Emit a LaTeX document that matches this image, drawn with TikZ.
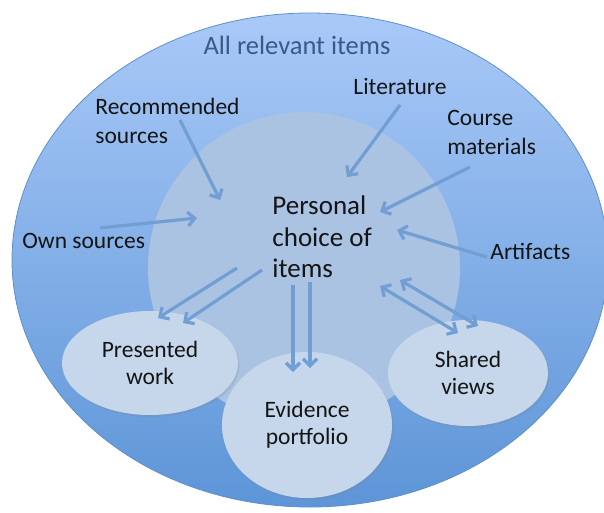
\documentclass[tikz,border=0pt]{standalone}
\usepackage{fontspec}
\setmainfont{Carlito}
\usetikzlibrary{arrows.meta, shapes.geometric, shadows}

\definecolor{worldtop}{HTML}{A9C9F8}
\definecolor{worldbottom}{HTML}{5D95D7}
\definecolor{worldline}{HTML}{5F8FCB}
\definecolor{poolfill}{HTML}{ABC3E2}
\definecolor{pickfill}{HTML}{C6D7EB}
\definecolor{linkblue}{HTML}{719ED3}
\definecolor{textblack}{HTML}{141414}
\definecolor{titleblue}{HTML}{3A5A85}

\begin{document}
\begin{tikzpicture}[x=1pt, y=-1pt, thick,
 >={Straight Barb[length=7pt,width=14pt]},
 txt node/.style={inner sep=0pt, align=left, text=textblack, font=\fontsize{23.5}{29}\selectfont},
 pick node/.style={ellipse, fill=pickfill, inner sep=0pt, align=center, text=textblack,
   font=\fontsize{23.5}{27}\selectfont, drop shadow={opacity=.2, shadow xshift=1.5pt, shadow yshift=-2pt}},
 link/.style={draw=linkblue, line width=3.2pt}]

  \useasboundingbox (0,0) rectangle (604,512);

  \node[ellipse, minimum width=596pt, minimum height=494pt, inner sep=0pt, top color=worldtop,
    bottom color=worldbottom, draw=worldline, line width=.8pt] (world) at (310,260) {};
  \node[circle, minimum size=312pt, inner sep=0pt, fill=poolfill] (pool) at (304,268) {};

  \node[txt node, text=titleblue, font=\fontsize{26.5}{31}\selectfont] (all) at (297,45) {All relevant items};
  \node[txt node, anchor=west] (rec) at (95,121) {Recommended\\sources};
  \node[txt node] (lit) at (400,86) {Literature};
  \node[txt node, anchor=west] (course) at (447,132) {Course\\materials};
  \node[txt node, anchor=west] (own) at (22,241) {Own sources};
  \node[txt node, anchor=west] (art) at (490,251) {Artifacts};
  \node[txt node, anchor=west, font=\fontsize{27}{31.5}\selectfont] (choice) at (272,237) {Personal\\choice of\\items};

  \node[pick node, minimum width=176pt, minimum height=104pt] (pres) at (150,363) {Presented\\work};
  \node[pick node, minimum width=170pt, minimum height=146pt] (evid) at (307,425) {Evidence\\portfolio};
  \node[pick node, minimum width=160pt, minimum height=106pt] (shared) at (468,373) {Shared\\views};

  \foreach \n/\x/\y in {recA/180/120, recB/220/200, ownA/100/228, ownB/197/218,
    litA/400/105, litB/347/177, courseA/470/167, courseB/380/212, artA/487/257, artB/397/230,
    presA/237/268, presB/158/318, presC/262/270, presD/183/323,
    evidA/293/285, evidB/293/372, evidC/310/282, evidD/310/368,
    sharedA/380/286, sharedB/458/333, sharedC/400/280, sharedD/478/326}
    \coordinate (\n) at (\x,\y);

  \foreach \s/\t/\a in {recA/recB/->, ownA/ownB/->, litA/litB/->, courseA/courseB/->, artA/artB/->,
    presA/presB/->, presC/presD/->, evidA/evidB/->, evidC/evidD/->,
    sharedA/sharedB/<->, sharedC/sharedD/<->} {
   \draw[link, \a] (\s) -- (\t);}
\end{tikzpicture}
\end{document}
